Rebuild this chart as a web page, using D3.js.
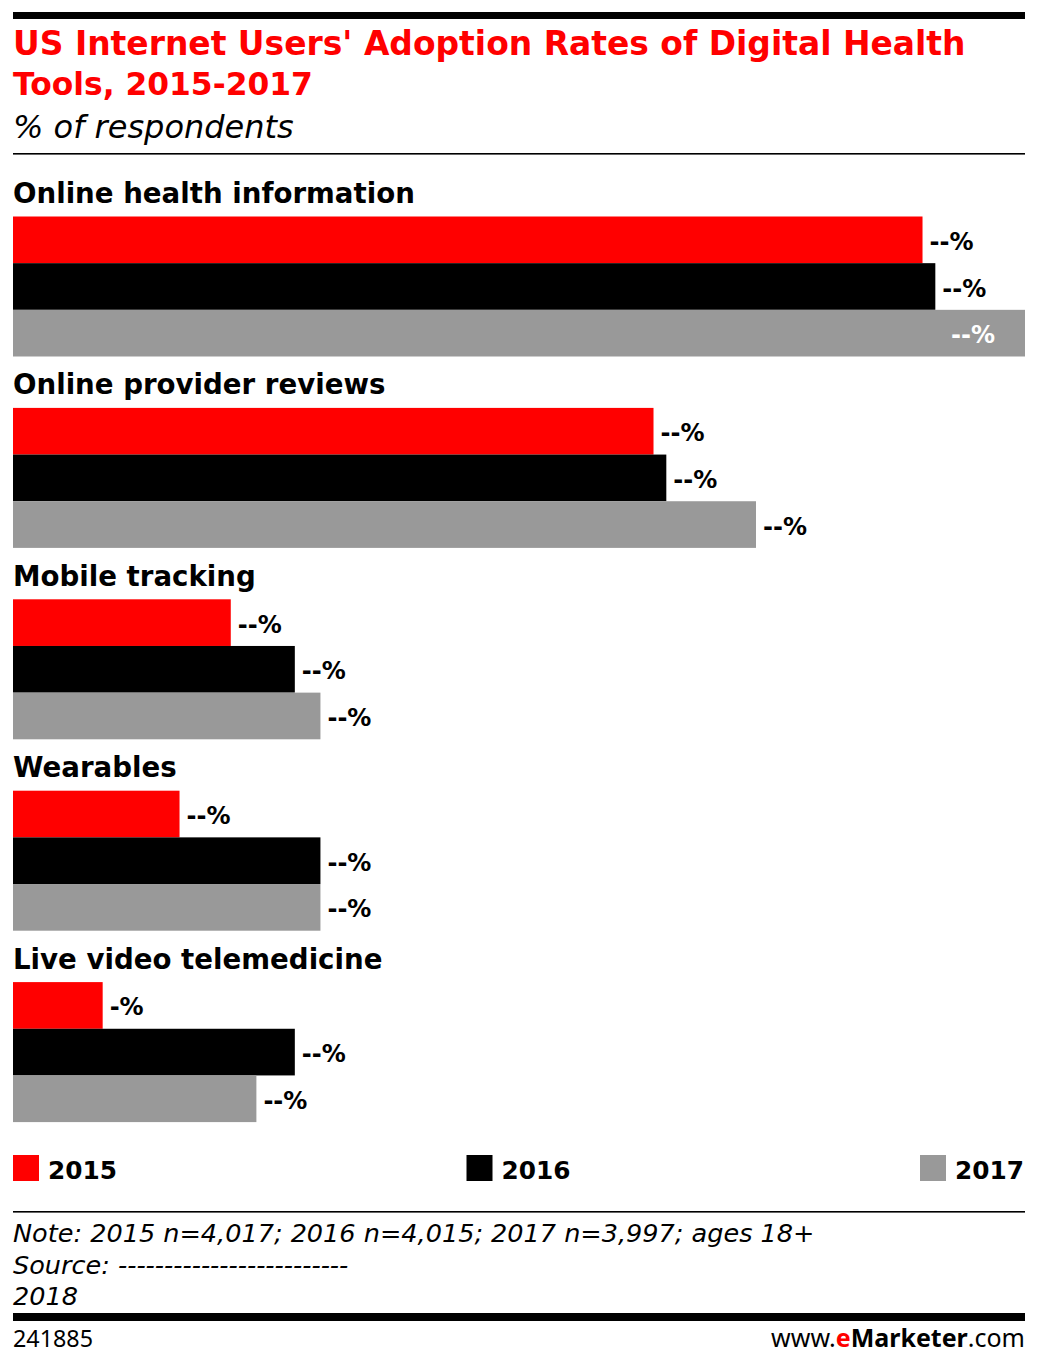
<!DOCTYPE html>
<html>
<head>
<meta charset="utf-8">
<script src="https://cdn.jsdelivr.net/npm/d3@7"></script>
<style>
  html, body { margin: 0; padding: 0; background: #fff; }
  svg { display: block; }
  .bold { font-family: "DejaVu Sans", Verdana, sans-serif; font-weight: bold; }
  .reg { font-family: "Noto Sans", "Open Sans", sans-serif; }
  .note { font-family: "DejaVu Sans", sans-serif; font-style: italic; }
</style>
</head>
<body>
<svg id="chart" width="1038" height="1366"></svg>
<script>
// ---- data ----
const categories = [
    'Online health information',
    'Online provider reviews',
    'Mobile tracking',
    'Wearables',
    'Live video telemedicine'
];
const years = ['2015', '2016', '2017'];
const values2015 = [71, 50, 17, 13, 7];
const values2016 = [72, 51, 22, 24, 22];
const values2017 = [79, 58, 24, 24, 19];
const colors = ['#ff0000', '#000000', '#999999'];

const title = ["US Internet Users' Adoption Rates of Digital Health", 'Tools, 2015-2017'];
const subtitle = '% of respondents';
const notes = [
    'Note: 2015 n=4,017; 2016 n=4,015; 2017 n=3,997; ages 18+',
    'Source: -------------------------',
    '2018'
];
const chartId = '241885';

// ---- layout ----
const left = 13, right = 1025;
const svg = d3.select('#chart');

// resize a text so it spans the wanted width
function fit(sel, base, target, max) {
    sel.style('font-size', base + 'px');
    const w = sel.node().getComputedTextLength();
    let size = base * target / w;
    if (max) size = Math.min(size, max);
    sel.style('font-size', size + 'px');
    return size;
}

// header
svg.append('rect').attr('x', left).attr('y', 12).attr('width', right - left).attr('height', 7).attr('fill', '#000');

const h1 = svg.append('text').attr('class', 'bold').attr('x', left).attr('y', 55)
    .attr('fill', '#ff0000').text(title[0]);
fit(h1, 34, 953);
const h2 = svg.append('text').attr('class', 'bold').attr('x', left).attr('y', 95)
    .attr('fill', '#ff0000').text(title[1]);
fit(h2, 34, 300);
const h3 = svg.append('text').attr('class', 'note').attr('x', left).attr('y', 138)
    .attr('fill', '#000').text(subtitle);
fit(h3, 30, 283, 32);

svg.append('rect').attr('x', left).attr('y', 153).attr('width', right - left).attr('height', 1.6).attr('fill', '#000');

// scales
const x = d3.scaleLinear().domain([0, d3.max(values2017)]).range([0, right - left]);
const yGroup = d3.scaleBand().domain(categories).range([176, 176 + 191.4 * categories.length]);
const ySeries = d3.scaleBand().domain(years).range([40.5, 40.5 + 140]);

const series = [values2015, values2016, values2017];
const rows = categories.map((c, i) => ({
    name: c,
    bars: years.map((yr, j) => ({ year: yr, value: series[j][i], color: colors[j] }))
}));

const groups = svg.append('g').selectAll('g')
    .data(rows)
    .join('g')
    .attr('transform', d => `translate(0,${yGroup(d.name)})`);

const catLabels = groups.append('text')
    .attr('class', 'bold')
    .attr('x', left)
    .attr('y', 27)
    .attr('fill', '#000')
    .text(d => d.name);
const catSize = fit(d3.select(catLabels.nodes()[0]), 27, 402);
catLabels.style('font-size', catSize + 'px');

groups.selectAll('rect')
    .data(d => d.bars)
    .join('rect')
    .attr('x', left)
    .attr('y', d => ySeries(d.year))
    .attr('width', d => x(d.value))
    .attr('height', ySeries.bandwidth())
    .attr('fill', d => d.color);

// value labels (masked as dashes in the source)
groups.selectAll('text.val')
    .data(d => d.bars)
    .join('text')
    .attr('class', 'val bold')
    .attr('y', d => ySeries(d.year) + ySeries.bandwidth() / 2 + 10)
    .style('font-size', '24px')
    .text(d => '-'.repeat(String(d.value).length) + '%')
    .each(function(d) {
        const w = this.getComputedTextLength();
        const end = left + x(d.value);
        const inside = end + 7 + w > right;
        d3.select(this)
            .attr('x', inside ? end - 30 : end + 7)
            .attr('text-anchor', inside ? 'end' : 'start')
            .attr('fill', inside ? '#fff' : '#000');
    });

// legend
const xLegend = d3.scalePoint().domain(years).range([left, 920]);
const legend = svg.append('g').selectAll('g')
    .data(years)
    .join('g')
    .attr('transform', d => `translate(${xLegend(d)},1155)`);
legend.append('rect').attr('width', 26).attr('height', 26).attr('fill', (d, i) => colors[i]);
const legText = legend.append('text').attr('class', 'bold').attr('x', 35).attr('y', 24)
    .attr('fill', '#000').text(d => d);
const legSize = fit(d3.select(legText.nodes()[0]), 28, 69);
legText.style('font-size', legSize + 'px');

// footer
svg.append('rect').attr('x', left).attr('y', 1211).attr('width', right - left).attr('height', 1.6).attr('fill', '#000');

const noteText = svg.append('g').selectAll('text')
    .data(notes)
    .join('text')
    .attr('class', 'note')
    .attr('x', left)
    .attr('y', (d, i) => 1242 + i * 31.5)
    .attr('fill', '#000')
    .text(d => d);
const noteSize = fit(d3.select(noteText.nodes()[0]), 27, 802, 26.5);
noteText.style('font-size', noteSize + 'px');

svg.append('rect').attr('x', left).attr('y', 1313).attr('width', right - left).attr('height', 8).attr('fill', '#000');

const idText = svg.append('text').attr('class', 'reg').attr('x', left).attr('y', 1347)
    .attr('fill', '#000').text(chartId);
fit(idText, 22, 80);

const brand = svg.append('text').attr('class', 'reg').attr('x', right).attr('y', 1347)
    .attr('text-anchor', 'end').attr('fill', '#000');
brand.append('tspan').text('www.');
brand.append('tspan').attr('fill', '#ff0000').style('font-weight', 'bold').text('e');
brand.append('tspan').style('font-weight', 'bold').text('Marketer');
brand.append('tspan').text('.com');
fit(brand, 24, 254);
</script>
</body>
</html>
